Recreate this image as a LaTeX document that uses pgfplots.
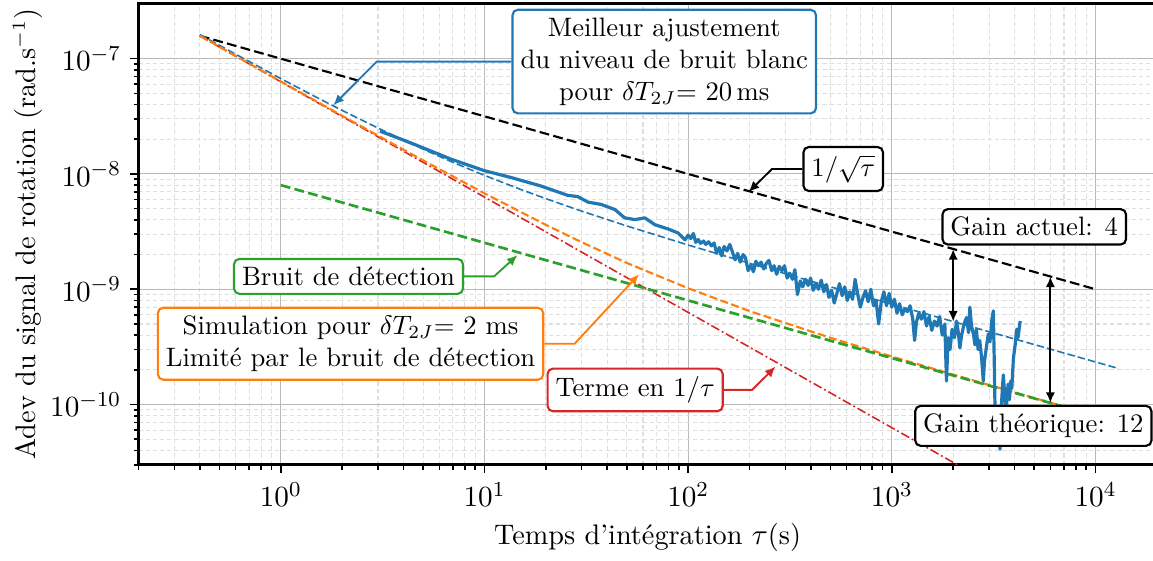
\documentclass[border=0pt]{standalone}
\usepackage{fontspec}
\usepackage{pgfplots}
\pgfplotsset{compat=1.18}
\usetikzlibrary{arrows.meta}

\definecolor{tabblue}{HTML}{1F77B4}
\definecolor{taborange}{HTML}{FF7F0E}
\definecolor{tabgreen}{HTML}{2CA02C}
\definecolor{tabred}{HTML}{D62728}

\tikzset{box/.style={draw, fill=white, rounded corners=2pt, line width=0.8pt, align=center, inner sep=3pt}}

% mesure Allan (delta T_2J = 20 ms)
\pgfplotstableread{
tau adev
3.07 2.35e-8
3.71 2.07e-8
4.66 1.77e-8
6.80 1.35e-8
9.94 1.07e-8
13.45 9.33e-9
18.9 7.87e-9
25.6 6.53e-9
28.7 6.36e-9
32.2 5.70e-9
37.4 5.44e-9
43.6 4.92e-9
48.8 4.16e-9
54.7 4.02e-9
61.3 4.16e-9
68.6 3.63e-9
79.9 3.33e-9
89.4 3.07e-9
96.5 2.68e-9
100 2.95e-9
103 2.75e-9
106 3.05e-9
109 2.55e-9
112 2.70e-9
115 2.50e-9
119 2.62e-9
122 2.45e-9
126 2.58e-9
130 2.38e-9
134 2.52e-9
138 2.05e-9
142 2.30e-9
146 1.95e-9
150 2.35e-9
155 2.15e-9
160 2.45e-9
165 2.10e-9
170 1.80e-9
175 2.05e-9
180 1.72e-9
186 2.00e-9
191 1.88e-9
197 1.45e-9
203 1.62e-9
209 1.42e-9
215 1.75e-9
221 1.60e-9
228 1.72e-9
235 1.50e-9
242 1.68e-9
249 1.78e-9
257 1.45e-9
264 1.60e-9
272 1.35e-9
280 1.58e-9
289 1.45e-9
297 1.60e-9
306 1.25e-9
315 1.38e-9
325 1.22e-9
334 1.48e-9
344 0.90e-9
355 1.18e-9
365 1.05e-9
376 1.22e-9
388 1.08e-9
399 1.25e-9
411 0.98e-9
424 1.12e-9
436 1.00e-9
450 1.20e-9
463 0.95e-9
477 1.10e-9
491 0.85e-9
506 0.98e-9
521 0.76e-9
537 0.92e-9
553 1.12e-9
570 0.88e-9
587 1.05e-9
604 0.80e-9
622 0.95e-9
641 0.82e-9
660 1.22e-9
680 0.90e-9
700 0.70e-9
721 0.85e-9
743 0.97e-9
765 0.78e-9
788 1.00e-9
812 0.72e-9
836 0.80e-9
861 0.50e-9
887 0.78e-9
914 0.95e-9
941 0.72e-9
970 0.92e-9
999 0.70e-9
1029 0.82e-9
1060 0.62e-9
1091 0.75e-9
1124 0.60e-9
1158 0.68e-9
1192 0.64e-9
1228 0.72e-9
1265 0.56e-9
1293 0.36e-9
1320 0.52e-9
1356 0.62e-9
1395 0.55e-9
1437 0.64e-9
1480 0.48e-9
1524 0.58e-9
1570 0.44e-9
1617 0.53e-9
1666 0.48e-9
1716 0.58e-9
1767 0.40e-9
1820 0.50e-9
1854 0.16e-9
1890 0.38e-9
1930 0.30e-9
1975 0.45e-9
2030 0.38e-9
2077 0.53e-9
2120 0.42e-9
2157 0.31e-9
2200 0.40e-9
2260 0.50e-9
2326 0.57e-9
2380 0.42e-9
2415 0.70e-9
2460 0.48e-9
2520 0.40e-9
2557 0.33e-9
2600 0.45e-9
2650 0.30e-9
2700 0.36e-9
2760 0.25e-9
2810 0.16e-9
2850 0.24e-9
2900 0.30e-9
2974 0.41e-9
3030 0.35e-9
3100 0.55e-9
3148 0.65e-9
3180 0.25e-9
3209 0.092e-9
3240 0.06e-9
3272 0.044e-9
3320 0.07e-9
3370 0.055e-9
3397 0.041e-9
3440 0.09e-9
3490 0.14e-9
3527 0.181e-9
3580 0.12e-9
3630 0.08e-9
3666 0.105e-9
3720 0.15e-9
3780 0.11e-9
3830 0.16e-9
3880 0.138e-9
3950 0.25e-9
4029 0.331e-9
4100 0.45e-9
4160 0.38e-9
4265 0.531e-9
}\mesure

\begin{document}
\begin{tikzpicture}
\begin{axis}[
  xmode=log, ymode=log,
  scale only axis, width=382pt, height=173pt,
  xmin=0.2, xmax=2e4, ymin=3e-11, ymax=3e-7,
  grid=both,
  major grid style={gray!55, line width=0.4pt},
  minor grid style={gray!25, dash pattern=on 1.6pt off 1.1pt, line width=0.4pt},
  tick pos=left, tick align=outside,
  major tick length=3pt, minor tick length=1.8pt,
  every tick/.style={black, line width=0.6pt},
  axis line style={line width=1.1pt},
  tick label style={font=\fontsize{11}{13}\selectfont},
  label style={font=\fontsize{10.6}{12.7}\selectfont},
  xlabel style={yshift=0.5pt},
  ylabel shift=-4pt,
  xlabel={Temps d'intégration $\tau$(s)},
  ylabel={Adev du signal de rotation (rad.s$^{-1}$)},
]
% 1/sqrt(tau)
\addplot[black, line width=0.8pt, dash pattern=on 3.7pt off 1.6pt] coordinates {(0.4,1.58e-7) (1e4,1e-9)};
% ajustement bruit blanc
\addplot[tabblue, line width=0.6pt, dash pattern=on 2.8pt off 1.2pt] coordinates {
(0.4,1.618e-7) (0.6,1.093e-7) (1,6.72e-8) (1.5,4.61e-8) (2,3.56e-8) (3,2.50e-8)
(5,1.64e-8) (7,1.26e-8) (10,9.72e-9) (15,7.36e-9) (20,6.11e-9) (30,4.76e-9)
(50,3.54e-9) (100,2.42e-9) (200,1.68e-9) (500,1.05e-9) (1000,7.43e-10) (13000,2.053e-10)};
% terme en 1/tau
\addplot[tabred, line width=0.6pt, dash pattern=on 3.4pt off 1.1pt on 0.7pt off 1.1pt] coordinates {(0.4,1.575e-7) (1e4,6.3e-12)};
% simulation 2 ms
\addplot[taborange, line width=0.8pt, dash pattern=on 3pt off 1.3pt] coordinates {
(0.4,1.58e-7) (0.6,1.055e-7) (1,6.35e-8) (2,3.20e-8) (3,2.15e-8) (5,1.31e-8)
(10,6.79e-9) (20,3.62e-9) (30,2.56e-9) (50,1.69e-9) (100,1.02e-9) (200,6.47e-10)
(500,3.79e-10) (1000,2.61e-10) (2000,1.82e-10) (5000,1.14e-10) (10000,8.02e-11)};
% bruit de detection
\addplot[tabgreen, line width=1pt, dash pattern=on 3.7pt off 1.6pt] coordinates {(1,8e-9) (1e4,8e-11)};
% mesure
\addplot[tabblue, line width=1.2pt, line join=round] table[x=tau, y=adev] {\mesure};

% annotations
\node[box, draw=tabblue] (m) at (axis cs:76.3,9.43e-8) {Meilleur ajustement\\du niveau de bruit blanc\\pour $\delta T_{2J}$= 20\,ms};
\draw[tabblue, line width=0.7pt, -{Latex[length=4pt,width=3.5pt]}] (m.west) -- (axis cs:2.96,9.43e-8) -- (axis cs:1.81,3.95e-8);

\node[box, draw=black] (s) at (axis cs:577,1.104e-8) {$1/\sqrt{\tau}$};
\draw[black, line width=0.7pt, -{Latex[length=4pt,width=3.5pt]}] (s.west) -- (axis cs:258,1.104e-8) -- (axis cs:198,6.98e-9);

\draw[black, line width=0.8pt, {Latex[length=4pt,width=3.5pt]}-{Latex[length=4pt,width=3.5pt]}] (axis cs:2000,2.236e-9) -- (axis cs:2000,5.24e-10);
\draw[black, line width=0.8pt, {Latex[length=4pt,width=3.5pt]}-{Latex[length=4pt,width=3.5pt]}] (axis cs:6000,1.29e-9) -- (axis cs:6000,1.033e-10);
\node[box, draw=black] at (axis cs:5000,3.48e-9) {Gain actuel: 4};
\node[box, draw=black] at (axis cs:4950,6.54e-11) {Gain théorique: 12};

\node[box, draw=tabgreen] (b) at (axis cs:2.15,1.293e-9) {Bruit de détection};
\draw[tabgreen, line width=0.7pt, -{Latex[length=4pt,width=3.5pt]}] (b.east) -- (axis cs:11.14,1.293e-9) -- (axis cs:14.52,1.977e-9);

\node[box, draw=taborange] (sim) at (axis cs:2.20,3.37e-10) {Simulation pour $\delta T_{2J}$= 2 ms\\Limité par le bruit de détection};
\draw[taborange, line width=0.7pt, -{Latex[length=4pt,width=3.5pt]}] (sim.east) -- (axis cs:27.7,3.37e-10) -- (axis cs:57.4,1.35e-9);

\node[box, draw=tabred] (t) at (axis cs:54.9,1.34e-10) {Terme en $1/\tau$};
\draw[tabred, line width=0.7pt, -{Latex[length=4pt,width=3.5pt]}] (t.east) -- (axis cs:205.8,1.34e-10) -- (axis cs:268.5,2.135e-10);
\end{axis}
% the reference is cut just inside the right spine, with a little room on the left
\path (current bounding box.south west) coordinate (sw) (current bounding box.north east) coordinate (ne);
\pgfresetboundingbox
\useasboundingbox ([xshift=-1.5pt]sw) rectangle ([xshift=-2pt]ne);
\end{tikzpicture}
\end{document}
